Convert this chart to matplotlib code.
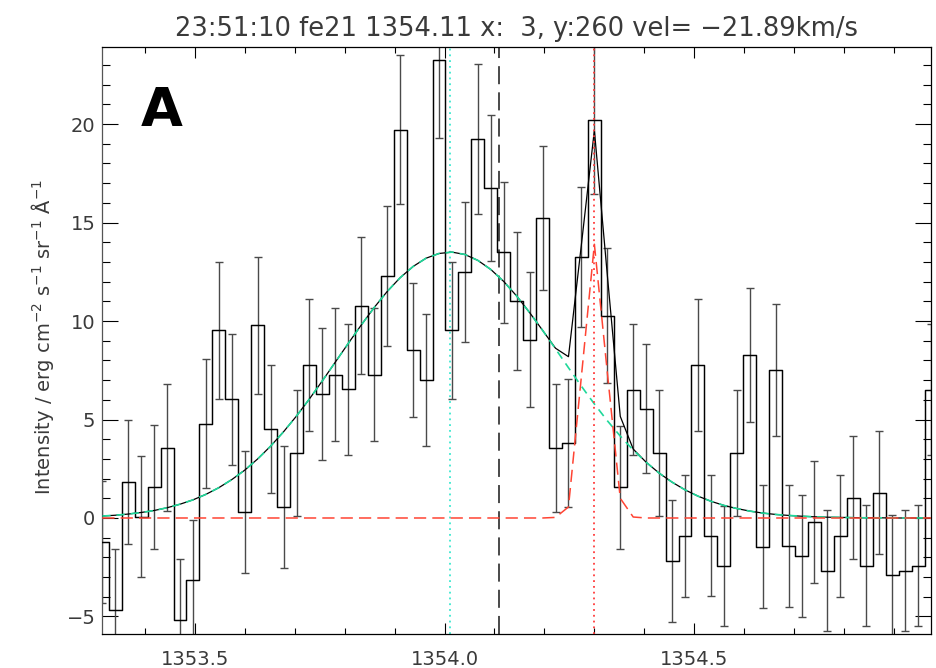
import numpy as np
import matplotlib
matplotlib.use("Agg")
import matplotlib.pyplot as plt
from matplotlib.ticker import MultipleLocator, FormatStrFormatter

plt.rcParams['font.family'] = ['DejaVu Sans']
plt.rcParams['mathtext.default'] = 'regular'

# wavelength grid of the spectrum (first pixel and dispersion, Angstrom)
wave_start = 1353.315
wave_step = 0.02592

# measured intensity per pixel
flux = [-1.20, -4.67, 1.82, 0.07, 1.57, 3.56, -5.18, -3.17, 4.78, 9.52,
        6.02, 0.31, 9.78, 4.54, 0.56, 3.31, 7.78, 6.31, 7.28, 6.53,
        10.77, 7.28, 12.27, 19.72, 8.53, 7.02, 23.23, 9.52, 12.50, 19.25,
        16.75, 13.50, 11.02, 9.06, 15.25, 3.55, 3.80, 13.25, 20.22, 10.28,
        1.55, 6.52, 5.55, 3.31, -2.18, -0.91, 7.78, -0.90, -2.43, 3.31,
        8.28, -1.45, 7.52, -1.44, -1.94, -0.19, -2.67, -0.91, 1.04, -2.42,
        1.29, -2.91, -2.68, -2.42, 6.52]

# 1-sigma errors
flux_err = [3.10, 3.10, 3.15, 3.08, 3.14, 3.22, 3.10, 3.07, 3.27, 3.47,
            3.31, 3.09, 3.46, 3.25, 3.12, 3.21, 3.36, 3.34, 3.36, 3.33,
            3.48, 3.36, 3.55, 3.79, 3.41, 3.35, 3.93, 3.47, 3.56, 3.79,
            3.70, 3.58, 3.49, 3.43, 3.65, 3.24, 3.26, 3.57, 3.77, 3.45,
            3.14, 3.33, 3.29, 3.21, 3.09, 3.08, 3.36, 3.08, 3.06, 3.21,
            3.40, 3.10, 3.37, 3.10, 3.09, 3.09, 3.07, 3.08, 3.11, 3.08,
            3.13, 3.07, 3.08, 3.08, 3.33]

# broad (Fe XXI) fit component at each pixel
fit_broad = [0.10, 0.14, 0.20, 0.28, 0.38, 0.52, 0.70, 0.92, 1.20, 1.54,
             1.95, 2.43, 3.00, 3.65, 4.38, 5.18, 6.05, 6.97, 7.92, 8.87,
             9.80, 10.69, 11.50, 12.20, 12.77, 13.19, 13.43, 13.50, 13.38, 13.08,
             12.62, 12.01, 11.27, 10.43, 9.53, 8.59, 7.63, 6.69, 5.79, 4.94,
             4.16, 3.45, 2.83, 2.28, 1.82, 1.43, 1.11, 0.85, 0.64, 0.48,
             0.35, 0.25, 0.18, 0.13, 0.09, 0.06, 0.04, 0.03, 0.02, 0.01,
             0.01, 0.00, 0.00, 0.00, 0.00]

# narrow blend component at each pixel
fit_narrow = [0.0] * 35 + [0.03, 0.56, 7.20, 13.90, 7.40, 1.00, 0.05] + [0.0] * 23

rest_wave = 1354.11      # fe21 rest wavelength
line_center = 1354.011   # fitted centroid of the broad component
blend_center = 1354.299  # centroid of the narrow component

title = "23:51:10 fe21 1354.11 x:  3, y:260 vel= \u221221.89km/s"

wave = wave_start + wave_step * np.arange(len(flux))
flux = np.array(flux)
fit_broad = np.array(fit_broad)
fit_narrow = np.array(fit_narrow)
fit_total = fit_broad + fit_narrow

txt_col = '#3a3a3a'

fig = plt.figure(figsize=(9.36, 6.68), dpi=100)
ax = fig.add_axes([0.1093, 0.0509, 0.8854, 0.8792])

ax.step(wave, flux, where='mid', color='black', lw=1.05, zorder=3)
ax.errorbar(wave, flux, yerr=flux_err, fmt='none', ecolor='#4a4a4a',
            elinewidth=1.0, capsize=3.2, capthick=1.0, zorder=2)

ax.plot(wave, fit_total, color='black', lw=0.9, zorder=4)
ax.plot(wave, fit_broad, color='#1fd89a', lw=1.2, dashes=(5, 3.5), zorder=5)
ax.plot(wave, fit_narrow, color='#ff4433', lw=1.1, dashes=(8, 4), zorder=5)

ax.axvline(line_center, color='#3ce8d0', lw=1.3, ls=(0, (1, 2.2)), zorder=1)
ax.axvline(rest_wave, color='#3a3a3a', lw=1.3, dashes=(10, 4.5), zorder=1)
ax.axvline(blend_center, color='#ff3b3b', lw=1.3, ls=(0, (1, 2.2)), zorder=6)

ax.set_xlim(wave[0], wave[-1])
ax.set_ylim(-5.89, 23.93)

ax.xaxis.set_major_locator(MultipleLocator(0.5))
ax.xaxis.set_minor_locator(MultipleLocator(0.1))
ax.xaxis.set_major_formatter(FormatStrFormatter('%.1f'))
ax.yaxis.set_major_locator(MultipleLocator(5))
ax.yaxis.set_minor_locator(MultipleLocator(1))

ax.tick_params(axis='both', which='both', direction='in', top=True, right=True,
               color='black', width=0.8, labelcolor=txt_col, labelsize=14)
ax.tick_params(axis='x', which='major', length=8, pad=11.5)
ax.tick_params(axis='x', which='minor', length=4.2)
ax.tick_params(axis='y', which='major', length=11.5, pad=5)
ax.tick_params(axis='y', which='minor', length=6)

for s in ax.spines.values():
    s.set_linewidth(0.9)
    s.set_color('black')
ax.spines['left'].set_color('#555555')

ax.text(0.5, 1 + 11 / 587.5, title, transform=ax.transAxes, ha='center',
        va='baseline', fontsize=18.5, color=txt_col)
fig.text(0.0459, 0.4948,
         r'Intensity / erg cm$^{-2}$ s$^{-1}$ sr$^{-1}$ Å$^{-1}$',
         rotation=90, ha='center', va='center', fontsize=14, color=txt_col)
ax.text(0.0463, 0.8647, 'A', transform=ax.transAxes, ha='left', va='baseline',
        fontsize=39, fontweight='bold', color='black')

fig.savefig('out.png', dpi=100)
